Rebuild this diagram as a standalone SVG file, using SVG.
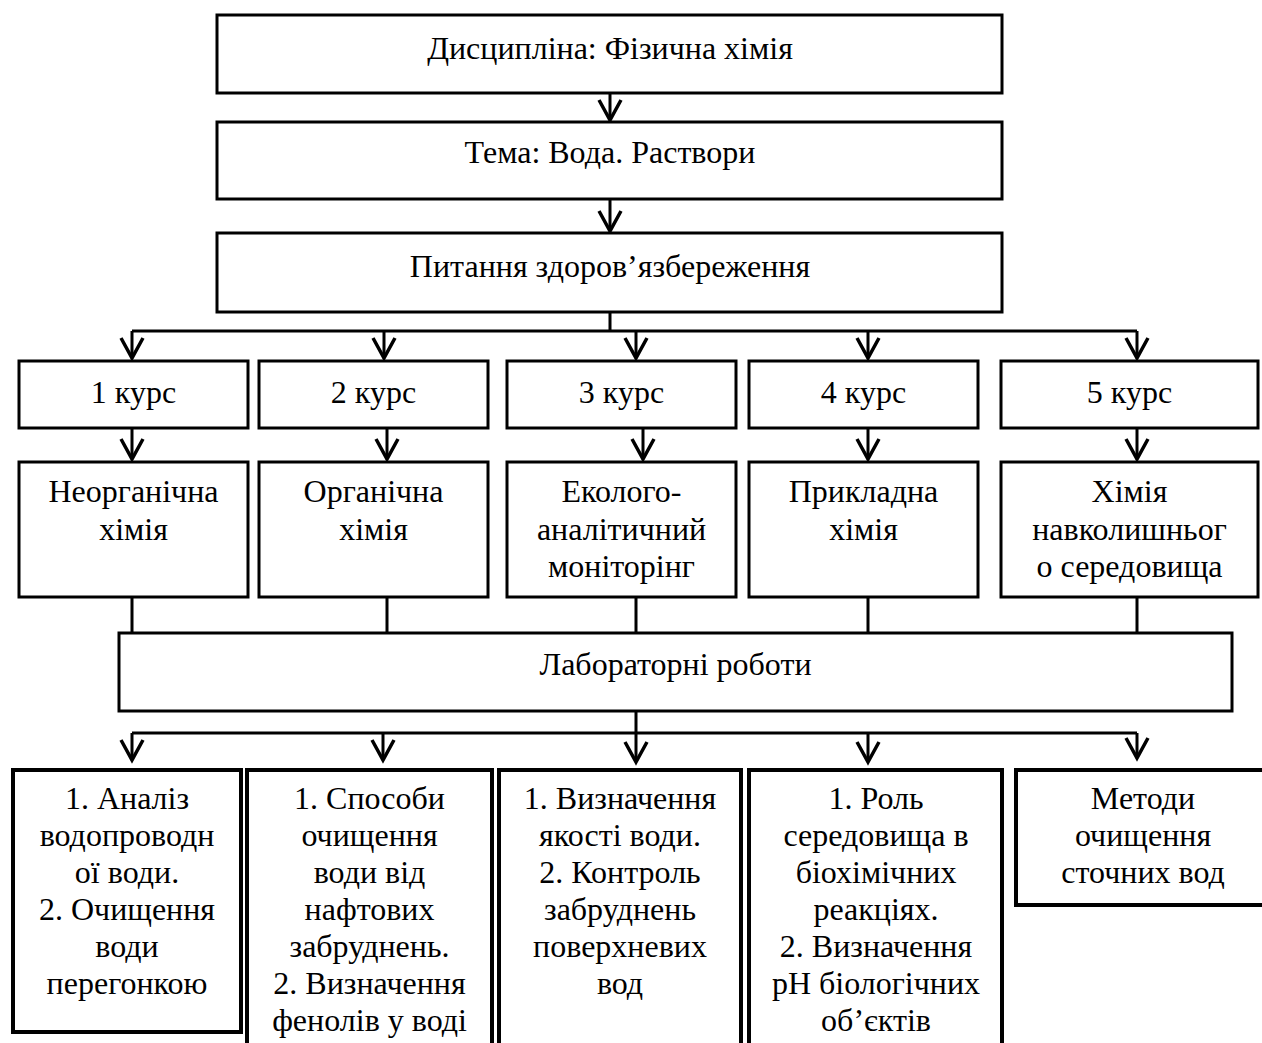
<svg xmlns="http://www.w3.org/2000/svg" width="1262" height="1043" viewBox="0 0 1262 1043">
<defs>
<marker id="v" markerUnits="userSpaceOnUse" markerWidth="30" markerHeight="30" refX="0" refY="0" orient="auto" overflow="visible">
<path d="M-20,-11 L0,0 L-20,11" fill="none" stroke="#000" stroke-width="3.5" stroke-linejoin="miter"/>
</marker>
</defs>
<style>
.b{fill:#fff;stroke:#000;stroke-width:3}
.bb{fill:#fff;stroke:#000;stroke-width:4}
.t{font-family:"Liberation Serif","Times New Roman",serif;font-size:32px;text-anchor:middle;fill:#000}
.c{fill:none;stroke:#000;stroke-width:3}
.a{fill:none;stroke:#000;stroke-width:3;marker-end:url(#v)}
</style>
<rect width="1262" height="1043" fill="#fff"/>
<g id="connectors">
<path class="a" d="M610,93 V120"/>
<path class="a" d="M610,199 V231"/>
<path class="c" d="M610,312 V331 M132,331 H1137"/>
<path class="a" d="M132,331 V358"/>
<path class="a" d="M384,331 V358"/>
<path class="a" d="M636,331 V358"/>
<path class="a" d="M868,331 V358"/>
<path class="a" d="M1137,331 V358"/>
<path class="a" d="M132,428 V459"/>
<path class="a" d="M387,428 V459"/>
<path class="a" d="M643,428 V459"/>
<path class="a" d="M868,428 V459"/>
<path class="a" d="M1137,428 V459"/>
<path class="c" d="M132,597 V633 M387,597 V633 M636,597 V633 M868,597 V633 M1137,597 V633"/>
<path class="c" d="M636,711 V733 M132,733 H1137"/>
<path class="a" d="M132,733 V760"/>
<path class="a" d="M383,733 V760"/>
<path class="a" d="M636,733 V762"/>
<path class="a" d="M868,733 V762"/>
<path class="a" d="M1137,733 V758"/>
</g>
<g id="discipline"><rect class="b" x="217" y="15" width="785" height="78"/><text class="t" x="610" y="59">Дисципліна: Фізична хімія</text></g>
<g id="topic"><rect class="b" x="217" y="122" width="785" height="77"/><text class="t" x="610" y="163">Тема: Вода. Раствори</text></g>
<g id="health"><rect class="b" x="217" y="233" width="785" height="79"/><text class="t" x="610" y="277">Питання здоров’язбереження</text></g>
<g id="course1"><rect class="b" x="19" y="361" width="229" height="67"/><text class="t" x="133.5" y="403">1 курс</text></g>
<g id="course2"><rect class="b" x="259" y="361" width="229" height="67"/><text class="t" x="373.5" y="403">2 курс</text></g>
<g id="course3"><rect class="b" x="507" y="361" width="229" height="67"/><text class="t" x="621.5" y="403">3 курс</text></g>
<g id="course4"><rect class="b" x="749" y="361" width="229" height="67"/><text class="t" x="863.5" y="403">4 курс</text></g>
<g id="course5"><rect class="b" x="1001" y="361" width="257" height="67"/><text class="t" x="1129.5" y="403">5 курс</text></g>
<g id="subject1"><rect class="b" x="19" y="462" width="229" height="135"/><text class="t" x="133.5" y="502">Неорганічна<tspan x="133.5" y="539.5">хімія</tspan></text></g>
<g id="subject2"><rect class="b" x="259" y="462" width="229" height="135"/><text class="t" x="373.5" y="502">Органічна<tspan x="373.5" y="539.5">хімія</tspan></text></g>
<g id="subject3"><rect class="b" x="507" y="462" width="229" height="135"/><text class="t" x="621.5" y="502">Еколого-<tspan x="621.5" y="539.5">аналітичний</tspan><tspan x="621.5" y="577">моніторінг</tspan></text></g>
<g id="subject4"><rect class="b" x="749" y="462" width="229" height="135"/><text class="t" x="863.5" y="502">Прикладна<tspan x="863.5" y="539.5">хімія</tspan></text></g>
<g id="subject5"><rect class="b" x="1001" y="462" width="257" height="135"/><text class="t" x="1129.5" y="502">Хімія<tspan x="1129.5" y="539.5">навколишньог</tspan><tspan x="1129.5" y="577">о середовища</tspan></text></g>
<g id="labs"><rect class="b" x="119" y="633" width="1113" height="78"/><text class="t" x="675.5" y="675">Лабораторні роботи</text></g>
<g id="work1"><rect class="bb" x="13" y="770" width="228" height="262"/><text class="t" x="127" y="809">1. Аналіз<tspan x="127" y="846">водопроводн</tspan><tspan x="127" y="883">ої води.</tspan><tspan x="127" y="920">2. Очищення</tspan><tspan x="127" y="957">води</tspan><tspan x="127" y="994">перегонкою</tspan></text></g>
<g id="work2"><rect class="bb" x="247" y="770" width="245" height="290"/><text class="t" x="369.5" y="809">1. Способи<tspan x="369.5" y="846">очищення</tspan><tspan x="369.5" y="883">води від</tspan><tspan x="369.5" y="920">нафтових</tspan><tspan x="369.5" y="957">забруднень.</tspan><tspan x="369.5" y="994">2. Визначення</tspan><tspan x="369.5" y="1031">фенолів у воді</tspan></text></g>
<g id="work3"><rect class="bb" x="499" y="770" width="242" height="290"/><text class="t" x="620" y="809">1. Визначення<tspan x="620" y="846">якості води.</tspan><tspan x="620" y="883">2. Контроль</tspan><tspan x="620" y="920">забруднень</tspan><tspan x="620" y="957">поверхневих</tspan><tspan x="620" y="994">вод</tspan></text></g>
<g id="work4"><rect class="bb" x="749" y="770" width="253" height="290"/><text class="t" x="876" y="809">1. Роль<tspan x="876" y="846">середовища в</tspan><tspan x="876" y="883">біохімічних</tspan><tspan x="876" y="920">реакціях.</tspan><tspan x="876" y="957">2. Визначення</tspan><tspan x="876" y="994">рН біологічних</tspan><tspan x="876" y="1031">об’єктів</tspan></text></g>
<g id="work5"><rect class="bb" x="1016" y="770" width="260" height="135"/><text class="t" x="1143" y="809">Методи<tspan x="1143" y="846">очищення</tspan><tspan x="1143" y="883">сточних вод</tspan></text></g>
</svg>
